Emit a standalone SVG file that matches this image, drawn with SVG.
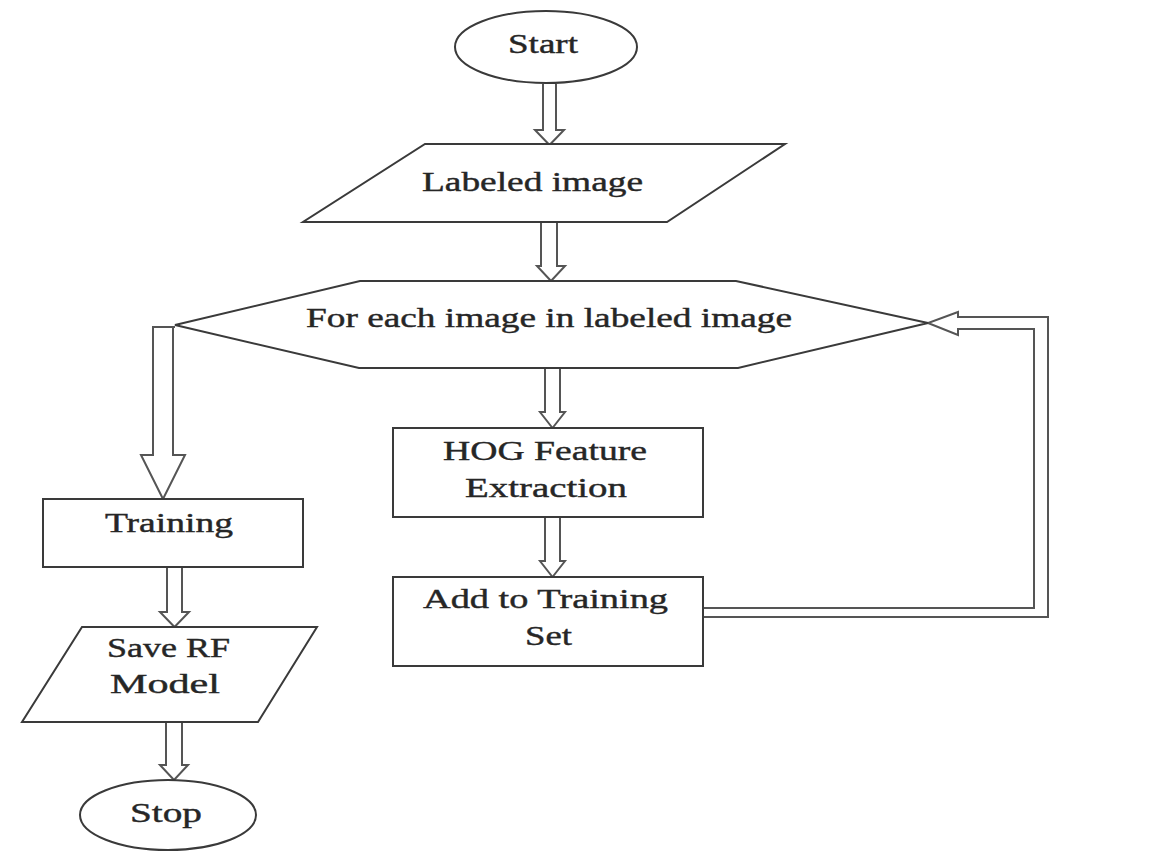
<svg xmlns="http://www.w3.org/2000/svg" width="1170" height="867" viewBox="0 0 1170 867">
<style>
.shape{fill:#fff;stroke:#3a3a3a;stroke-width:2}
.arr{fill:#fff;stroke:#555;stroke-width:2;stroke-linejoin:miter}
.loop{fill:none;stroke:#555;stroke-width:2}
text{font-family:"Liberation Serif","Times New Roman",serif;font-size:27px;fill:#262626;stroke:#262626;stroke-width:0.4;text-anchor:start}
</style>
<rect width="1170" height="867" fill="#fff"/>
<g id="connectors">
<path class="arr" d="M543,84 V130 H535 L549.5,145 L564,130 H556 V84"/>
<path class="arr" d="M541,223 V266 H537 L551,281 L565,266 H557 V223"/>
<path class="arr" d="M545,369 V412 H540 L552.5,428 L565,412 H560 V369"/>
<path class="arr" d="M545,518 V561 H540 L552.5,577 L565,561 H560 V518"/>
<path class="arr" d="M175,327 H153 V455 H141 L163,499 L185,455 H173 V327"/>
<path class="arr" d="M167,568 V612 H160 L174.5,627 L189,612 H182 V568"/>
<path class="arr" d="M166,723 V765 H160 L174,780 L188,765 H182 V723"/>
<path class="loop" d="M703,608 H1034 V329 H958 V335 L928,323 L958,312 V317 H1048 V617 H703"/>
</g>
<g id="start">
<ellipse class="shape" cx="546" cy="47" rx="91" ry="36"/>
<text x="508" y="53" textLength="70" lengthAdjust="spacingAndGlyphs">Start</text>
</g>
<g id="labeled-image">
<polygon class="shape" points="425,144 785,144 667,222 303,222"/>
<text x="422" y="191" textLength="221" lengthAdjust="spacingAndGlyphs">Labeled image</text>
</g>
<g id="for-each">
<polygon class="shape" points="175,325 360,281 736,281 928,323 738,368 359,368"/>
<text x="306" y="327" textLength="486" lengthAdjust="spacingAndGlyphs">For each image in labeled image</text>
</g>
<g id="hog">
<rect class="shape" x="393" y="428" width="310" height="89"/>
<text x="443" y="460" textLength="204" lengthAdjust="spacingAndGlyphs">HOG Feature</text>
<text x="465" y="497" textLength="162" lengthAdjust="spacingAndGlyphs">Extraction</text>
</g>
<g id="add">
<rect class="shape" x="393" y="577" width="310" height="89"/>
<text x="423" y="608" textLength="245" lengthAdjust="spacingAndGlyphs">Add to Training</text>
<text x="525" y="645" textLength="47" lengthAdjust="spacingAndGlyphs">Set</text>
</g>
<g id="training">
<rect class="shape" x="43" y="499" width="260" height="68"/>
<text x="105" y="532" textLength="128" lengthAdjust="spacingAndGlyphs">Training</text>
</g>
<g id="save">
<polygon class="shape" points="82,627 317,627 258,722 22,722"/>
<text x="107" y="657" textLength="123" lengthAdjust="spacingAndGlyphs">Save RF</text>
<text x="110" y="693" textLength="110" lengthAdjust="spacingAndGlyphs">Model</text>
</g>
<g id="stop">
<ellipse class="shape" cx="168" cy="815" rx="88" ry="35"/>
<text x="130" y="822" textLength="72" lengthAdjust="spacingAndGlyphs">Stop</text>
</g>
</svg>
